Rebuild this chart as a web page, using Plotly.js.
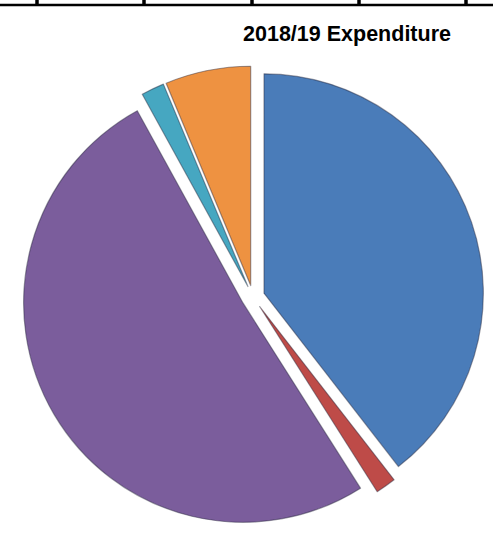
<!DOCTYPE html>
<html>
<head>
<meta charset="utf-8">
<script src="https://cdn.plot.ly/plotly-3.0.1.min.js"></script>
<style>html,body{margin:0;padding:0;background:#fff;}#chart{width:493px;height:540px;}</style>
</head>
<body>
<div id="chart"></div>
<script>
// Expenditure shares (percent), clockwise from 12 o'clock
const categories = ["Category A", "Category B", "Category C", "Category D", "Category E"];
const values = [39.5, 1.5, 51.0, 1.7, 6.3];
const colors = ["#4A7CB9", "#BE4B48", "#7B5D9C", "#46A7C1", "#EE9241"];
const tableTicks = [37, 144, 252, 359, 466];

const W = 493, H = 540;
const shapes = [{
  type: "line", xref: "paper", yref: "paper",
  x0: 0, x1: 1, y0: 1 - 5 / H, y1: 1 - 5 / H,
  line: {color: "#000", width: 2.5}
}];
tableTicks.forEach(px => shapes.push({
  type: "line", xref: "paper", yref: "paper",
  x0: px / W, x1: px / W, y0: 1, y1: 1 - 5 / H,
  line: {color: "#000", width: 3.5}
}));

const trace = {
  type: "pie",
  labels: categories,
  values: values,
  sort: false,
  direction: "clockwise",
  rotation: 0,
  pull: [0.053, 0.053, 0.053, 0.053, 0.053],
  marker: {colors: colors, line: {color: "rgba(40,40,60,0.45)", width: 1.2}},
  textinfo: "none",
  hoverinfo: "label+percent",
  domain: {x: [0.0446, 0.9817], y: [0.0222, 0.8778]}
};

const layout = {
  width: W, height: H,
  margin: {l: 0, r: 0, t: 0, b: 0},
  paper_bgcolor: "#fff",
  showlegend: false,
  title: {
    text: "<b>2018/19 Expenditure</b>",
    font: {family: "Liberation Sans, Arial, sans-serif", size: 21.5, color: "#000"},
    x: 347 / W, xref: "paper", xanchor: "center",
    y: 1 - 33 / H, yref: "paper", yanchor: "middle"
  },
  shapes: shapes
};

Plotly.newPlot("chart", [trace], layout, {displayModeBar: false, staticPlot: true});
</script>
</body>
</html>
